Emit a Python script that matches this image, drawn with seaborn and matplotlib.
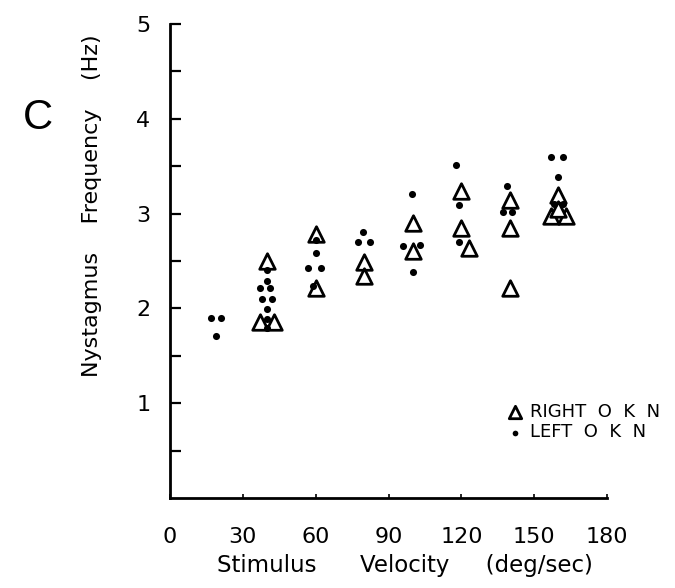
import matplotlib
matplotlib.use("Agg")
import matplotlib.pyplot as plt
import seaborn as sns
import pandas as pd

# Right OKN (open triangles)
right_x = [40, 37, 43, 60, 60, 80, 80, 100, 100, 120, 120, 123, 140, 140, 140, 160, 157, 163, 160]
right_y = [2.50, 1.86, 1.86, 2.79, 2.22, 2.49, 2.34, 2.90, 2.61, 3.24, 2.85, 2.64, 3.14, 2.85, 2.21, 3.20, 2.97, 2.97, 3.05]

# Left OKN (dots)
left_x = [17, 21, 19,
          40, 40, 37, 41, 38, 42, 40, 40, 40,
          60, 60, 57, 62, 59,
          79.5, 77.5, 82.5,
          99.6, 96, 103, 100,
          118, 119, 119,
          138.7, 137, 141,
          157, 162, 160, 158, 162]
left_y = [1.90, 1.90, 1.71,
          2.40, 2.29, 2.21, 2.21, 2.10, 2.10, 1.99, 1.89, 1.79,
          2.72, 2.58, 2.43, 2.43, 2.24,
          2.81, 2.70, 2.70,
          3.21, 2.66, 2.67, 2.38,
          3.51, 3.09, 2.70,
          3.29, 3.02, 3.02,
          3.60, 3.60, 3.39, 3.10, 3.10]

x_ticks = [0, 30, 60, 90, 120, 150, 180]
y_ticks = [1, 2, 3, 4, 5]

sns.set_style("ticks")
plt.rcParams['font.family'] = ['DejaVu Sans']
plt.rcParams['text.color'] = 'black'
plt.rcParams['axes.labelcolor'] = 'black'
plt.rcParams['xtick.color'] = 'black'
plt.rcParams['ytick.color'] = 'black'
plt.rcParams['axes.edgecolor'] = 'black'

fig = plt.figure(figsize=(6.75, 5.88), dpi=100)
ax = fig.add_axes([170/675, 1-498/588, (607-170)/675, (498-24)/588])

df_r = pd.DataFrame({"v": right_x, "f": right_y})
df_l = pd.DataFrame({"v": left_x, "f": left_y})

sns.scatterplot(data=df_l, x="v", y="f", ax=ax, marker="o", s=26, color="black",
                edgecolor="black", linewidth=0, label="LEFT  O  K  N", zorder=3)
sns.scatterplot(data=df_r, x="v", y="f", ax=ax, marker="^", s=125, facecolor="white",
                edgecolor="black", linewidth=2.0, label="RIGHT  O  K  N", zorder=2)

ax.set_xlim(0, 180)
ax.set_ylim(0, 5)
ax.set_xticks(x_ticks)
ax.set_xticklabels([str(t) for t in x_ticks])
ax.set_yticks([0.5 * i for i in range(1, 11)])
ax.set_yticklabels(["" if (i % 2) else str(i // 2) for i in range(1, 11)])
ax.tick_params(axis="y", direction="in", length=8, width=1.6, labelsize=16, pad=14)
ax.tick_params(axis="x", direction="in", length=3, width=1.2, labelsize=16, pad=21)
for s in ["top", "right"]:
    ax.spines[s].set_visible(False)
for s in ["left", "bottom"]:
    ax.spines[s].set_linewidth(2)

ax.set_xlabel("Stimulus      Velocity     (deg/sec)", fontsize=16.5)
ax.xaxis.set_label_coords(0.538, -0.118)
ax.set_ylabel("Nystagmus    Frequency    (Hz)", fontsize=16)
ax.yaxis.set_label_coords(-0.155, 0.616)

handles, labels = ax.get_legend_handles_labels()
order = [1, 0]
leg = ax.legend([handles[i] for i in order], [labels[i] for i in order],
                loc="center left", bbox_to_anchor=(488/675, 1-422/588),
                bbox_transform=fig.transFigure, frameon=False, fontsize=13,
                handletextpad=0.2, labelspacing=0.15, handlelength=1.2, markerscale=0.8)

fig.text(38/675, 1-118/588, "C", fontsize=30, ha="center", va="center",
         family="Liberation Sans")

fig.savefig("out.png", dpi=100)
